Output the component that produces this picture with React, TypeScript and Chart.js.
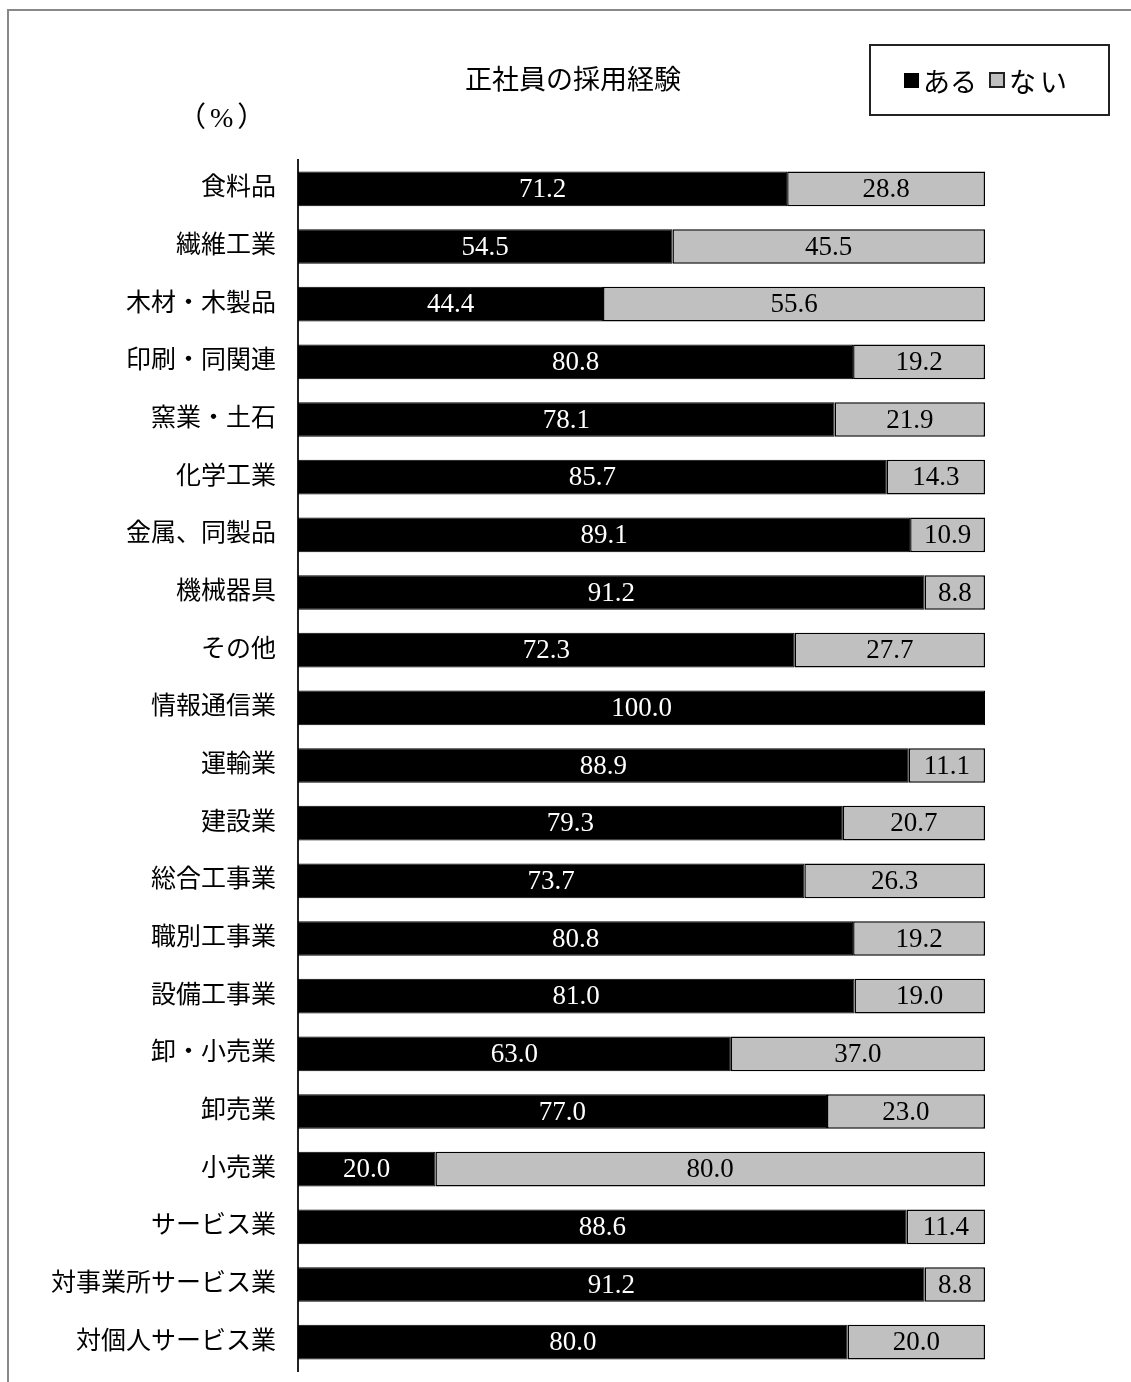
import React, { useEffect, useRef } from "react";
import { Chart, registerables } from "chart.js";

Chart.register(...registerables);

const categories = [
  "食料品", "繊維工業", "木材・木製品", "印刷・同関連", "窯業・土石", "化学工業",
  "金属、同製品", "機械器具", "その他", "情報通信業", "運輸業", "建設業",
  "総合工事業", "職別工事業", "設備工事業", "卸・小売業", "卸売業", "小売業",
  "サービス業", "対事業所サービス業", "対個人サービス業",
];
const aruValues = [71.2, 54.5, 44.4, 80.8, 78.1, 85.7, 89.1, 91.2, 72.3, 100.0, 88.9, 79.3, 73.7, 80.8, 81.0, 63.0, 77.0, 20.0, 88.6, 91.2, 80.0];
const naiValues = [28.8, 45.5, 55.6, 19.2, 21.9, 14.3, 10.9, 8.8, 27.7, 0, 11.1, 20.7, 26.3, 19.2, 19.0, 37.0, 23.0, 80.0, 11.4, 8.8, 20.0];
const seriesNames = ["ある", "ない"];

const FONT = '"Liberation Serif", "Noto Sans CJK JP", serif';

const valueLabels = {
  id: "valueLabels",
  afterDatasetsDraw(chart: any) {
    const ctx = chart.ctx;
    ctx.save();
    ctx.font = `27px ${FONT}`;
    ctx.textAlign = "center";
    ctx.textBaseline = "middle";
    chart.data.datasets.forEach((ds: any, di: number) => {
      const meta = chart.getDatasetMeta(di);
      meta.data.forEach((el: any, i: number) => {
        const v = ds.data[i];
        if (!v) return;
        const cx = (el.x + el.base) / 2;
        ctx.fillStyle = di === 0 ? "#ffffff" : "#000000";
        ctx.fillText(v.toFixed(1), cx, el.y + 1);
      });
    });
    ctx.restore();
  },
};

export default function App() {
  const ref = useRef<HTMLCanvasElement | null>(null);
  useEffect(() => {
    if (!ref.current) return;
    const chart = new Chart(ref.current, {
      type: "bar",
      data: {
        labels: categories,
        datasets: [
          {
            label: seriesNames[0],
            data: aruValues,
            backgroundColor: "#000000",
            borderColor: "#000000",
            borderWidth: 1,
            borderSkipped: false,
            categoryPercentage: 1,
            barPercentage: 0.6,
          },
          {
            label: seriesNames[1],
            data: naiValues,
            backgroundColor: "#c0c0c0",
            borderColor: "#000000",
            borderWidth: 1.5,
            borderSkipped: false,
            categoryPercentage: 1,
            barPercentage: 0.6,
          },
        ],
      },
      options: {
        indexAxis: "y",
        animation: false,
        responsive: false,
        devicePixelRatio: 1,
        layout: { padding: { left: 0, right: 146, top: 160, bottom: 11 } },
        plugins: { legend: { display: false }, tooltip: { enabled: false }, title: { display: false } },
        scales: {
          x: { stacked: true, min: 0, max: 100, display: false },
          y: {
            stacked: true,
            grid: { display: false, drawTicks: false },
            border: { display: true, color: "#222222", width: 2 },
            ticks: { color: "#000", padding: 22, font: { family: FONT, size: 25 } },
            afterFit: (s: any) => { s.width = 298; },
          },
        },
      },
      plugins: [valueLabels],
    } as any);
    return () => chart.destroy();
  }, []);

  const jp: React.CSSProperties = { fontFamily: FONT, color: "#000", position: "absolute", whiteSpace: "nowrap" };
  return (
    <div style={{ position: "absolute", left: 0, top: 0, width: 1131, height: 1382, background: "#fff", overflow: "hidden" }}>
      <div style={{ position: "absolute", left: 7, top: 9, width: 1124, height: 1373, borderTop: "2px solid #888", borderLeft: "2px solid #888", boxSizing: "border-box" }} />
      <canvas ref={ref} width={1131} height={1408} style={{ position: "absolute", left: 0, top: 0, width: 1131, height: 1408 }} />
      <div style={{ ...jp, left: 465, top: 61, fontSize: 27, lineHeight: "38px" }}>正社員の採用経験</div>
      <div style={{ ...jp, left: 178, top: 98, fontSize: 28, lineHeight: "40px", letterSpacing: 4 }}>（%）</div>
      <div style={{ position: "absolute", left: 869, top: 44, width: 241, height: 72, border: "2px solid #222", boxSizing: "border-box", display: "flex", alignItems: "center", paddingLeft: 33 }}>
        <span style={{ display: "inline-block", width: 15, height: 15, background: "#000", marginRight: 4 }} />
        <span style={{ fontFamily: FONT, fontSize: 27, marginRight: 12 }}>ある</span>
        <span style={{ display: "inline-block", width: 12, height: 12, background: "#c0c0c0", border: "2px solid #222", marginRight: 4 }} />
        <span style={{ fontFamily: FONT, fontSize: 27, letterSpacing: 4 }}>ない</span>
      </div>
    </div>
  );
}
